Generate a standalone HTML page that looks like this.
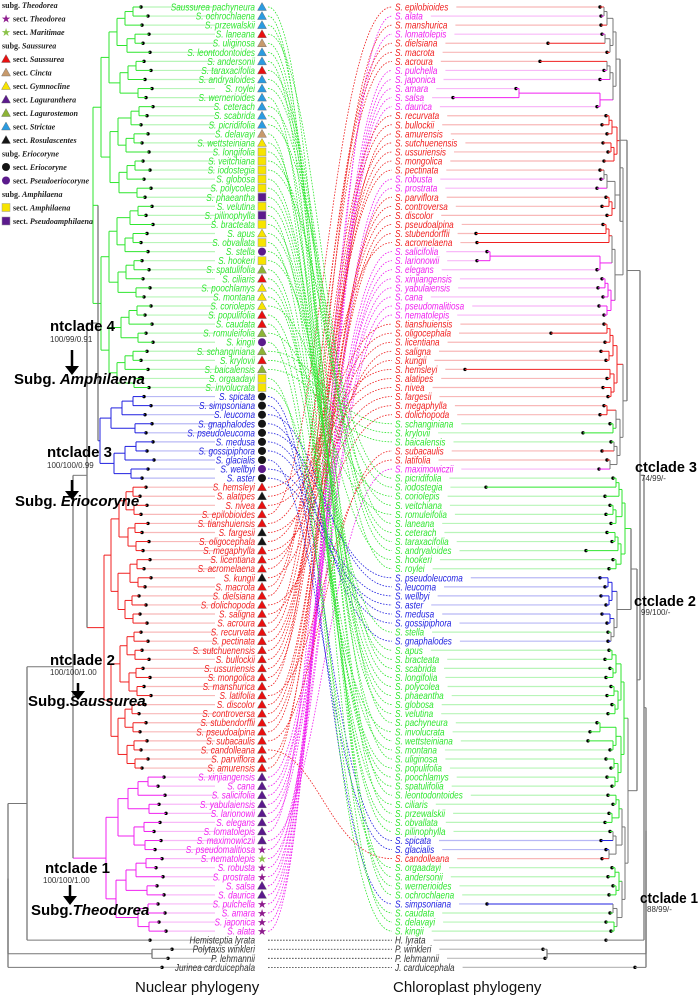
<!DOCTYPE html>
<html><head><meta charset="utf-8"><style>
body{margin:0;background:#fff;}
svg{display:block;font-family:"Liberation Sans",sans-serif;}
.tip{font-style:italic;font-size:10.5px;}
.leg{font-family:"Liberation Serif",serif;font-weight:bold;font-size:8px;fill:#222;}
.cl{font-weight:bold;font-size:15px;fill:#000;}
.sup{font-size:8px;fill:#333;}
</style></head><body>
<svg id="chart" width="700" height="997" viewBox="0 0 700 997" xmlns="http://www.w3.org/2000/svg">
<g id="legend"></g>
<g id="conn"></g>
<g id="ltree"></g>
<g id="rtree"></g>
<g id="ann">
<text class="cl" x="50" y="331">ntclade 4</text>
<text class="sup" x="50" y="342">100/99/0.91</text>
<text class="cl" x="14" y="384">Subg. <tspan font-style="italic">Amphilaena</tspan></text>
<text class="cl" x="47" y="457">ntclade 3</text>
<text class="sup" x="47" y="468">100/100/0.99</text>
<text class="cl" x="15" y="506">Subg. <tspan font-style="italic">Eriocoryne</tspan></text>
<text class="cl" x="50" y="665">ntclade 2</text>
<text class="sup" x="50" y="675">100/100/1.00</text>
<text class="cl" x="28" y="706">Subg.<tspan font-style="italic">Saussurea</tspan></text>
<text class="cl" x="45" y="873">ntclade 1</text>
<text class="sup" x="43" y="883">100/100/1.00</text>
<text class="cl" x="31" y="915">Subg.<tspan font-style="italic">Theodorea</tspan></text>
<text class="cl" x="635" y="472" textLength="62" lengthAdjust="spacingAndGlyphs">ctclade 3</text>
<text class="sup" x="641" y="481" font-size="7">74/99/-</text>
<text class="cl" x="634" y="606" textLength="62" lengthAdjust="spacingAndGlyphs">ctclade 2</text>
<text class="sup" x="641" y="615" font-size="7">99/100/-</text>
<text class="cl" x="640" y="903" textLength="58" lengthAdjust="spacingAndGlyphs">ctclade 1</text>
<text class="sup" x="647" y="912" font-size="7">88/99/-</text>
<text x="135" y="992" font-size="15" fill="#111">Nuclear phylogeny</text>
<text x="393" y="992" font-size="15" fill="#111">Chloroplast phylogeny</text>
</g>
</svg>
<script>
const leftTaxa=["Saussurea pachyneura","S. ochrochlaena","S. przewalskii","S. laneana","S. uliginosa","S. leontodontoides","S. andersonii","S. taraxacifolia","S. andryaloides","S. roylei","S. wernerioides","S. ceterach","S. scabrida","S. picridifolia","S. delavayi","S. wettsteiniana","S. longifolia","S. veitchiana","S. iodostegia","S. globosa","S. polycolea","S. phaeantha","S. velutina","S. pilinophylla","S. bracteata","S. apus","S. obvallata","S. stella","S. hookeri","S. spatulifolia","S. ciliaris","S. poochlamys","S. montana","S. coriolepis","S. populifolia","S. caudata","S. romuleifolia","S. kingii","S. schanginiana","S. krylovii","S. baicalensis","S. orgaadayi","S. involucrata",
"S. spicata","S. simpsoniana","S. leucoma","S. gnaphalodes","S. pseudoleucoma","S. medusa","S. gossipiphora","S. glacialis","S. wellbyi","S. aster",
"S. hemsleyi","S. alatipes","S. nivea","S. epilobioides","S. tianshuiensis","S. fargesii","S. oligocephala","S. megaphylla","S. licentiana","S. acromelaena","S. kungii","S. macrota","S. dielsiana","S. dolichopoda","S. saligna","S. acroura","S. recurvata","S. pectinata","S. sutchuenensis","S. bullockii","S. ussuriensis","S. mongolica","S. manshurica","S. latifolia","S. discolor","S. controversa","S. stubendorffii","S. pseudoalpina","S. subacaulis","S. candolleana","S. parviflora","S. amurensis",
"S. xinjiangensis","S. cana","S. salicifolia","S. yabulaiensis","S. larionowii","S. elegans","S. lomatolepis","S. maximowiczii","S. pseudomalitiosa","S. nematolepis","S. robusta","S. prostrata","S. salsa","S. daurica","S. pulchella","S. amara","S. japonica","S. alata",
"Hemisteptia lyrata","Polytaxis winkleri","P. lehmannii","Jurinea carduicephala"];
const leftGroups="GGGGGGGGGGGGGGGGGGGGGGGGGGGGGGGGGGGGGGGGGGG"+"BBBBBBBBBB"+"RRRRRRRRRRRRRRRRRRRRRRRRRRRRRRRR"+"MMMMMMMMMMMMMMMMMM"+"OOOO";
const leftSymbols="SSSRCSSRSSSSSSCYAAAAAPAPAYAQALRYYYRRLQLRLAA"+"EEEEEEEEQE"+"RKRRRKKRRRKRRRRRRRRRRRRRRRRRRRRR"+"UUUUUUUUTMTTUUTTTT"+"----";
const rightTaxa=["S. epilobioides","S. alata","S. manshurica","S. lomatolepis","S. dielsiana","S. macrota","S. acroura","S. pulchella","S. japonica","S. amara","S. salsa","S. daurica","S. recurvata","S. bullockii","S. amurensis","S. sutchuenensis","S. ussuriensis","S. mongolica","S. pectinata","S. robusta","S. prostrata","S. parviflora","S. controversa","S. discolor","S. pseudoalpina","S. stubendorffii","S. acromelaena","S. salicifolia","S. larionowii","S. elegans","S. xinjiangensis","S. yabulaiensis","S. cana","S. pseudomalitiosa","S. nematolepis","S. tianshuiensis","S. oligocephala","S. licentiana","S. saligna","S. kungii","S. hemsleyi","S. alatipes","S. nivea","S. fargesii","S. megaphylla","S. dolichopoda","S. schanginiana","S. krylovii","S. baicalensis","S. subacaulis","S. latifolia","S. maximowiczii","S. picridifolia","S. iodostegia","S. coriolepis","S. veitchiana","S. romuleifolia","S. laneana","S. ceterach","S. taraxacifolia","S. andryaloides","S. hookeri","S. roylei","S. pseudoleucoma","S. leucoma","S. wellbyi","S. aster","S. medusa","S. gossipiphora","S. stella","S. gnaphalodes","S. apus","S. bracteata","S. scabrida","S. longifolia","S. polycolea","S. phaeantha","S. globosa","S. velutina","S. pachyneura","S. involucrata","S. wettsteiniana","S. montana","S. uliginosa","S. populifolia","S. poochlamys","S. spatulifolia","S. leontodontoides","S. ciliaris","S. przewalskii","S. obvallata","S. pilinophylla","S. spicata","S. glacialis","S. candolleana","S. orgaadayi","S. andersonii","S. wernerioides","S. ochrochlaena","S. simpsoniana","S. caudata","S. delavayi","S. kingii","H. lyrata","P. winkleri","P. lehmannii","J. carduicephala"];
const legendEntries=[["subg. ","Theodorea","H"],["sect. ","Theodorea","T"],["sect. ","Maritimae","M"],["subg. ","Saussurea","H"],["sect. ","Saussurea","R"],["sect. ","Cincta","C"],["sect. ","Gymnocline","Y"],["sect. ","Laguranthera","U"],["sect. ","Lagurostemon","L"],["sect. ","Strictae","S"],["sect. ","Rosulascentes","K"],["subg. ","Eriocoryne","H"],["sect. ","Eriocoryne","E"],["sect. ","Pseudoeriocoryne","Q"],["subg. ","Amphilaena","H"],["sect. ","Amphilaena","A"],["sect. ","Pseudoamphilaena","P"]];

const NS="http://www.w3.org/2000/svg";
const col={G:"#2fe62f",B:"#2020e0",R:"#f02020",M:"#f020f0",O:"#333"};
const faint={G:"#b8f5b8",B:"#b8b8f5",R:"#f8b8b8",M:"#f8b8f8",O:"#bbb"};
const Y0=7,DY=9.06;
function yOf(i){return Y0+i*DY;}
function mk(tag,attrs,parent){const e=document.createElementNS(NS,tag);for(const k in attrs)e.setAttribute(k,attrs[k]);parent.appendChild(e);return e;}
function key(n){const p=n.split(" ");return p[p.length-1];}
function squeeze(t){const L=t.getComputedTextLength();t.setAttribute("textLength",(L*0.78).toFixed(1));t.setAttribute("lengthAdjust","spacingAndGlyphs");}
const lIndex={};leftTaxa.forEach((n,i)=>lIndex[key(n)]=i);
const rightGroups=rightTaxa.map(n=>leftGroups[lIndex[key(n)]]);

function symbol(code,x,y,parent){
  const c={S:"#2b9be0",R:"#e81010",C:"#c79a6c",Y:"#f7e400",U:"#5b1a8c",L:"#8cb336",K:"#151515",E:"#151515",Q:"#5b1a8c",A:"#f7e400",P:"#5b1a8c",T:"#8e1c8e",M:"#8bc34a"}[code];
  let e;
  if("SRCYULK".includes(code)) e=mk("polygon",{points:`${x},${y-4.5} ${x+4.5},${y+3.5} ${x-4.5},${y+3.5}`,fill:c,stroke:"#666","stroke-width":0.4},parent);
  else if("EQ".includes(code)) e=mk("circle",{cx:x,cy:y,r:4,fill:c},parent);
  else if("AP".includes(code)) e=mk("rect",{x:x-4,y:y-4,width:8,height:8,fill:c,stroke:"#999","stroke-width":0.5},parent);
  else if("TM".includes(code)){e=mk("text",{x:x,y:y+4,"text-anchor":"middle","font-size":11,fill:c},parent);e.textContent="★";}
  return e;
}

// legend
const lg=document.getElementById("legend");
legendEntries.forEach((en,i)=>{
  const y=5+i*13.5;
  const g=mk("g",{},lg);
  
  
  let tx=2;
  if(en[2]!=="H"){symbol(en[2],6,y,g);tx=13;}
  const t=mk("text",{x:tx,y:y+3,class:"leg"},g);
  t.appendChild(document.createTextNode(en[0]));
  const it=mk("tspan",{"font-style":"italic"},t);it.textContent=en[1];
});

// connectors
const cg=document.getElementById("conn");
rightTaxa.forEach((n,j)=>{
  const i=lIndex[key(n)];const yl=yOf(i),yr=yOf(j);
  const p=mk("path",{d:`M268,${yl} C318,${yl} 330,${yr} 392,${yr}`,fill:"none",stroke:col[leftGroups[i]],"stroke-width":0.8,"stroke-dasharray":"1.6,1.4"},cg);
  
  
});

function line(x1,y1,x2,y2,c,w,parent){return mk("line",{x1,y1,x2,y2,stroke:c,"stroke-width":w||1},parent);}
function buildTree(lo,hi,tipX,groups,dir,step,parent){
  if(lo===hi) return {x:tipX[lo],y:yOf(lo),g:groups[lo]};
  const mid=Math.floor((lo+hi)/2);
  const a=buildTree(lo,mid,tipX,groups,dir,step,parent),b=buildTree(mid+1,hi,tipX,groups,dir,step,parent);
  const nx=dir<0?Math.min(a.x,b.x)-step:Math.max(a.x,b.x)+step;
  const g=a.g===b.g?a.g:"O";
  const c=g==="O"?"#777":col[g];
  line(nx,a.y,a.x,a.y,a.g==="O"?"#777":col[a.g],1,parent);
  line(nx,b.y,b.x,b.y,b.g==="O"?"#777":col[b.g],1,parent);
  line(nx,a.y,nx,b.y,c,1,parent);
  return {x:nx,y:(a.y+b.y)/2,g};
}
function join(a,b,nx,parent){
  line(nx,a.y,a.x,a.y,a.g==="O"?"#777":col[a.g],1,parent);
  line(nx,b.y,b.x,b.y,b.g==="O"?"#777":col[b.g],1,parent);
  line(nx,a.y,nx,b.y,"#777",1.3,parent);
  return {x:nx,y:(a.y+b.y)/2,g:"O"};
}

// left tree
const lt=document.getElementById("ltree");
const lTipX=leftTaxa.map((n,i)=>{const b={G:145,B:146,R:143,M:158,O:160}[leftGroups[i]];return b+((i*7)%13)-4;});
lTipX[103]=150;lTipX[104]=172;lTipX[105]=168;lTipX[106]=162;
leftTaxa.forEach((n,i)=>{
  const g=leftGroups[i],y=yOf(i);
  line(lTipX[i],y,215,y,faint[g],1.2,lt);
  const t=mk("text",{x:255,y:y+3.5,"text-anchor":"end",class:"tip",fill:col[g]},lt);
  t.textContent=n;
  squeeze(t);
  
  
  mk("circle",{cx:lTipX[i],cy:y,r:1.7,fill:"#000"},lt);
  if(leftSymbols[i]!=="-"){const s=symbol(leftSymbols[i],262,y,lt);
    
    }
});
const Lg=buildTree(0,42,lTipX,leftGroups,-1,8,lt);
const Lb=buildTree(43,52,lTipX,leftGroups,-1,11,lt);
const Lr=buildTree(53,84,lTipX,leftGroups,-1,7,lt);
const Lm=buildTree(85,102,lTipX,leftGroups,-1,10,lt);
let L=join(Lg,Lb,98,lt);L=join(L,Lr,87,lt);L=join(L,Lm,73,lt);
L=join(L,{x:lTipX[103],y:yOf(103),g:"O"},27,lt);
const Lp=join({x:lTipX[104],y:yOf(104),g:"O"},{x:lTipX[105],y:yOf(105),g:"O"},152,lt);
L=join(L,Lp,8,lt);L=join(L,{x:lTipX[106],y:yOf(106),g:"O"},8,lt);
[[72,350,375],[72,480,500],[78,683,700],[70,885,905]].forEach(a=>{
  const g=mk("g",{},document.getElementById("ann"));
  
  
  line(a[0],a[1],a[0],a[2]-6,"#000",2.5,g);
  mk("polygon",{points:`${a[0]-7},${a[2]-9} ${a[0]+7},${a[2]-9} ${a[0]},${a[2]}`,fill:"#000"},g);
});

// right tree
const rt=document.getElementById("rtree");
const rTipX=rightTaxa.map((n,i)=>{const g=rightGroups[i];return ({G:609,B:604,R:604,M:600,O:605}[g])+((i*5)%9)-4;});
[[4,548],[6,540],[9,516],[10,453],[25,476],[26,477],[27,487],[28,477],[36,551],[40,465],[47,583],[53,486],[60,586],[79,597],[80,590],[81,588],[99,487],[103,606],[104,543],[105,545],[106,635]].forEach(p=>rTipX[p[0]]=p[1]);
rightTaxa.forEach((n,j)=>{
  const g=rightGroups[j],y=yOf(j);
  const t=mk("text",{x:395,y:y+3.5,class:"tip",fill:col[g]},rt);
  t.textContent=n;
  squeeze(t);
  
  
  const x0=Math.min(395+parseFloat(t.getAttribute("textLength"))+8,rTipX[j]);
  line(x0,y,rTipX[j],y,faint[g],1.2,rt);
  mk("circle",{cx:rTipX[j],cy:y,r:1.7,fill:"#000"},rt);
});
const blocks=[[0,11],[12,34],[35,51],[52,62],[63,70],[71,102]];
const sub=blocks.map(b=>buildTree(b[0],b[1],rTipX,rightGroups,1,3,rt));
let R=join(sub[0],sub[1],620,rt);R=join(R,sub[2],627,rt);
let R2=join(sub[3],sub[4],631,rt);R2=join(R2,sub[5],637,rt);
R=join(R,R2,640,rt);
R=join(R,{x:rTipX[103],y:yOf(103),g:"O"},644,rt);
const Rp=join({x:rTipX[104],y:yOf(104),g:"O"},{x:rTipX[105],y:yOf(105),g:"O"},547,rt);
R=join(R,Rp,646,rt);R=join(R,{x:rTipX[106],y:yOf(106),g:"O"},646,rt);
</script>
</body></html>
